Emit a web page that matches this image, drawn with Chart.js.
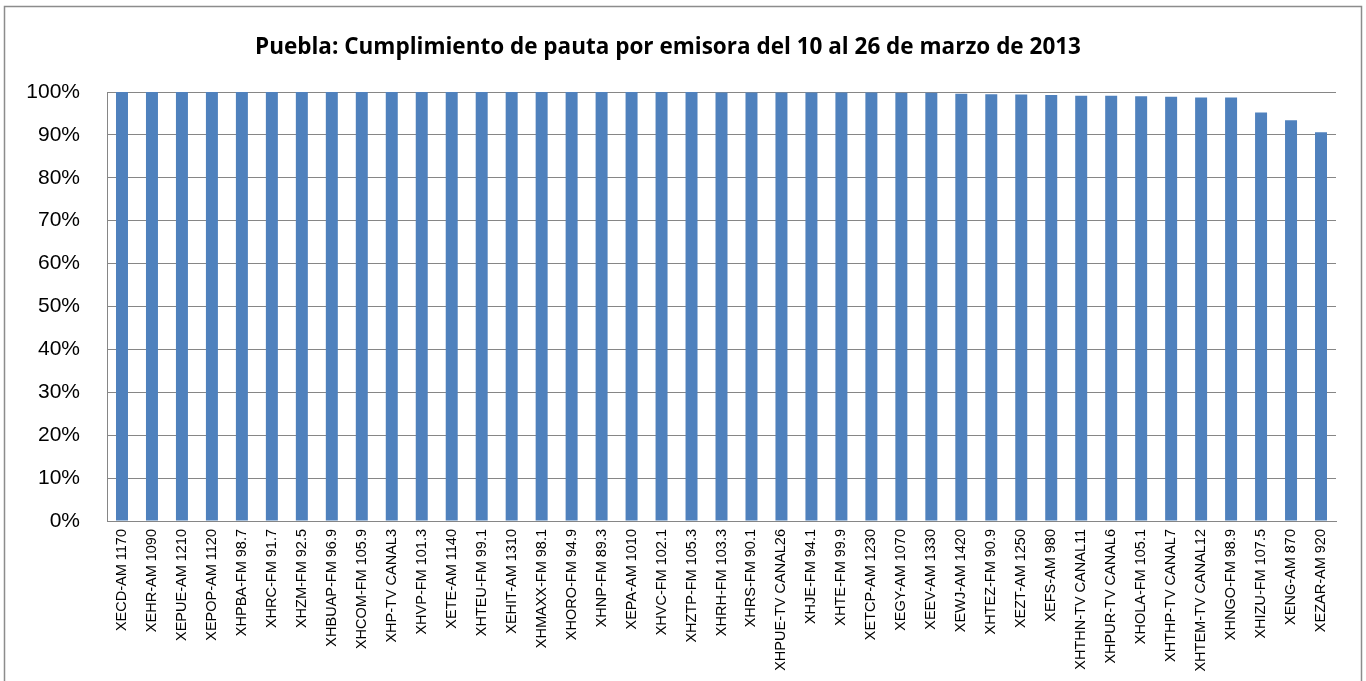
<!DOCTYPE html>
<html>
<head>
<meta charset="utf-8">
<script src="https://cdn.jsdelivr.net/npm/chart.js@4/dist/chart.umd.min.js"></script>
<style>
  html, body { margin: 0; padding: 0; background: #fff; }
  #wrap { position: relative; width: 1366px; height: 681px; }
</style>
</head>
<body>
<div id="wrap"><canvas id="chart" width="1366" height="681"></canvas></div>
<script>
const titleText = 'Puebla: Cumplimiento de pauta por emisora del 10 al 26 de marzo de 2013';

const stations = [
    'XECD-AM 1170', 'XEHR-AM 1090', 'XEPUE-AM 1210', 'XEPOP-AM 1120', 'XHPBA-FM 98.7',
    'XHRC-FM 91.7', 'XHZM-FM 92.5', 'XHBUAP-FM 96.9', 'XHCOM-FM 105.9', 'XHP-TV CANAL3',
    'XHVP-FM 101.3', 'XETE-AM 1140', 'XHTEU-FM 99.1', 'XEHIT-AM 1310', 'XHMAXX-FM 98.1',
    'XHORO-FM 94.9', 'XHNP-FM 89.3', 'XEPA-AM 1010', 'XHVC-FM 102.1', 'XHZTP-FM 105.3',
    'XHRH-FM 103.3', 'XHRS-FM 90.1', 'XHPUE-TV CANAL26', 'XHJE-FM 94.1', 'XHTE-FM 99.9',
    'XETCP-AM 1230', 'XEGY-AM 1070', 'XEEV-AM 1330', 'XEWJ-AM 1420', 'XHTEZ-FM 90.9',
    'XEZT-AM 1250', 'XEFS-AM 980', 'XHTHN-TV CANAL11', 'XHPUR-TV CANAL6', 'XHOLA-FM 105.1',
    'XHTHP-TV CANAL7', 'XHTEM-TV CANAL12', 'XHNGO-FM 98.9', 'XHIZU-FM 107.5', 'XENG-AM 870',
    'XEZAR-AM 920'
];

// percent of spots aired
const compliance = [
    100, 100, 100, 100, 100,
    100, 100, 100, 100, 100,
    100, 100, 100, 100, 100,
    100, 100, 100, 100, 100,
    99.9, 99.9, 99.9, 99.9, 99.9,
    99.9, 99.85, 99.8, 99.6, 99.5,
    99.4, 99.3, 99.1, 99.1, 99.0,
    98.9, 98.7, 98.7, 95.2, 93.4,
    90.6
];

const yTicks = [0, 10, 20, 30, 40, 50, 60, 70, 80, 90, 100];

// outer frame like the spreadsheet chart box
const framePlugin = {
    id: 'frame',
    beforeDraw(chart) {
        const ctx = chart.ctx;
        ctx.save();
        ctx.fillStyle = '#ffffff';
        ctx.fillRect(0, 0, chart.width, chart.height);
        ctx.strokeStyle = '#8c8c8c';
        ctx.lineWidth = 1.5;
        ctx.strokeRect(4.5, 6.5, 1357, 700);
        ctx.restore();
    }
};

const ctx = document.getElementById('chart').getContext('2d');
new Chart(ctx, {
    type: 'bar',
    data: {
        labels: stations,
        datasets: [{
            data: compliance,
            backgroundColor: '#4f81bd',
            borderWidth: 0,
            barPercentage: 0.4,
            categoryPercentage: 1.0,
        }],
    },
    options: {
        responsive: false,
        animation: false,
        layout: { padding: { left: 0, right: 30, top: 0, bottom: 0 } },
        plugins: {
            legend: { display: false },
            tooltip: { enabled: false },
            title: {
                display: true,
                text: titleText,
                color: '#000000',
                font: { family: '"Open Sans", Lato, sans-serif', size: 22.5, weight: 'bold' },
                padding: { top: 34.5, bottom: 30.5 },
            },
        },
        scales: {
            x: {
                grid: { display: false, drawTicks: false },
                border: { color: '#868686', width: 1 },
                ticks: {
                    color: '#000000',
                    font: { family: '"Liberation Sans", Arial, sans-serif', size: 14.5 },
                    minRotation: 90,
                    maxRotation: 90,
                    autoSkip: false,
                    padding: 8,
                },
                afterFit(scale) { scale.height = 160; },
            },
            y: {
                min: 0,
                max: 100,
                afterBuildTicks(scale) {
                    scale.ticks = yTicks.map(v => ({ value: v }));
                },
                grid: { color: '#868686', lineWidth: 1, drawTicks: false },
                border: { color: '#868686', width: 1 },
                ticks: {
                    color: '#000000',
                    font: { family: '"Liberation Sans", Arial, sans-serif', size: 21 },
                    padding: 27,
                    callback: v => v + '%',
                },
                afterFit(scale) { scale.width = 107; },
            },
        },
    },
    plugins: [framePlugin],
});
</script>
</body>
</html>
